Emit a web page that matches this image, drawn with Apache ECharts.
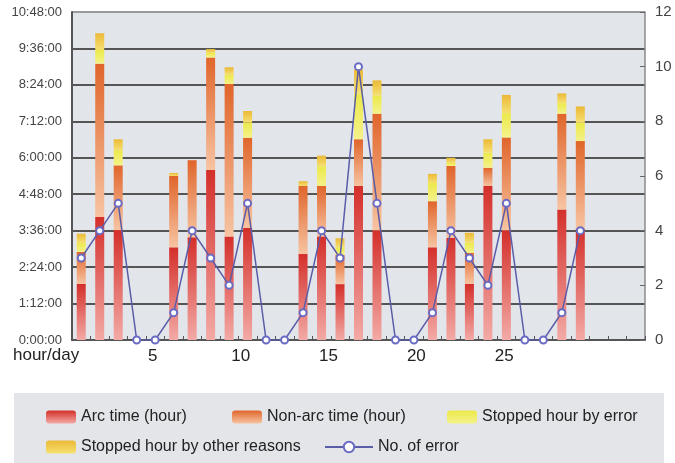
<!DOCTYPE html>
<html><head><meta charset="utf-8">
<script src="https://cdn.jsdelivr.net/npm/echarts/dist/echarts.min.js"></script>
<style>html,body{margin:0;padding:0;background:#fff}#c{width:675px;height:463px}</style>
</head><body><div id="c"></div>
<script>
// ---- data ----
const days = ['1','2','3','4','5','6','7','8','9','10','11','12','13','14','15','16','17','18','19','20','21','22','23','24','25','26','27','28','29','30','31'];
const arcTime =      [1.85,4.05,3.62,0,0,3.05,3.38,5.60,3.41,3.69,0,0,2.83,3.41,1.84,5.07,3.61,0,0,3.05,3.36,1.85,5.07,3.61,0,0,4.30,3.66,null,null,null];
const nonArcTime =   [1.05,5.05,2.13,0,0,2.35,2.54,3.70,5.02,2.97,0,0,2.24,1.66,0.96,1.54,3.84,0,0,1.52,2.37,1.02,0.60,3.06,0,0,3.15,2.89,null,null,null];
const stopError =    [0.30,0.45,0.50,0,0,0.00,0.00,0.15,0.30,0.50,0,0,0.00,0.65,0.25,1.50,0.60,0,0,0.60,0.10,0.33,0.50,0.80,0,0,0.35,0.60,null,null,null];
const stopOther =    [0.30,0.55,0.36,0,0,0.10,0.00,0.13,0.25,0.38,0,0,0.16,0.35,0.30,0.80,0.50,0,0,0.30,0.17,0.33,0.44,0.60,0,0,0.32,0.54,null,null,null];
const errorCount =   [3,4,5,0,0,1,4,3,2,5,0,0,1,4,3,10,5,0,0,1,4,3,2,5,0,0,1,4,null,null,null];
const dayTicks = [5,10,15,20,25];
const seriesNames = ['Arc time (hour)','Non-arc time (hour)','Stopped hour by error','Stopped hour by other reasons','No. of error'];

// ---- helpers ----
function pad(n){return (n<10?'0':'')+n;}
function hms(v){const s=Math.round(v*3600);return Math.floor(s/3600)+':'+pad(Math.floor(s%3600/60))+':'+pad(s%60);}
function grad(top,bottom){return {type:'linear',x:0,y:0,x2:0,y2:1,colorStops:[{offset:0,color:top},{offset:1,color:bottom}]};}
const FONT = "'Liberation Sans',sans-serif";

const colArc = grad('#d42f2a','#f3aaa6');
const colNon = grad('#e0652b','#f7c4a2');
const colErr = grad('#ece94a','#f4f28a');
const colOth = grad('#ebb937','#f6e070');

function legendAt(name,left,top,extra){
  return Object.assign({data:[name],left:left,top:top,itemWidth:30,itemHeight:13,itemGap:0,
    textStyle:{fontFamily:FONT,fontSize:16,color:'#222'},selectedMode:false},extra||{});
}

const chart = echarts.init(document.getElementById('c'),null,{renderer:'canvas'});
const barW = 9;
chart.setOption({
  animation:false,
  backgroundColor:'#fff',
  graphic:[
    {type:'rect',shape:{x:14,y:393,width:650,height:70},style:{fill:'#e3e5e9'},z:-10},
    {type:'text',left:13,top:347,style:{text:'hour/day',font:"17px 'Liberation Sans',sans-serif",fill:'#222'}}
  ],
  legend:[
    legendAt(seriesNames[0],41,404),
    legendAt(seriesNames[1],227,404),
    legendAt(seriesNames[2],442,404),
    legendAt(seriesNames[3],41,434),
    legendAt(seriesNames[4],319,434,{itemWidth:48})
  ],
  grid:[
    {left:72,right:30,top:12,bottom:123,show:true,backgroundColor:'#e2e5ea',borderWidth:0},
    {left:65,width:527,top:330,height:10,show:false}
  ],
  xAxis:[
    {type:'category',data:days,gridIndex:0,boundaryGap:true,
     axisLine:{lineStyle:{color:'#555',width:2}},
     axisTick:{show:true,inside:true,length:4,interval:0,lineStyle:{color:'#555'}},
     axisLabel:{show:false},splitLine:{show:false}},
    {type:'value',gridIndex:1,min:0,max:30,interval:5,
     axisLine:{show:false},axisTick:{show:false},splitLine:{show:false},
     axisLabel:{margin:8,fontFamily:FONT,fontSize:17,color:'#222',
       formatter:v=>dayTicks.indexOf(v)>=0?String(v):''}}
  ],
  yAxis:[
    {type:'value',gridIndex:0,min:0,max:10.8,interval:1.2,position:'left',
     axisLine:{show:true,lineStyle:{color:'#555',width:2}},axisTick:{show:false},
     axisLabel:{formatter:hms,margin:10,fontFamily:FONT,fontSize:13,color:'#444'},
     splitLine:{show:true,lineStyle:{width:2,color:['#555','#555','#555','#555','#555','#555','#555','#555','#555','#9a9a9a']}}},
    {type:'value',gridIndex:0,min:0,max:12,interval:2,position:'right',
     axisLine:{show:true,lineStyle:{color:'#8a8a8a',width:1.5}},
     axisTick:{show:true,inside:true,length:5,lineStyle:{color:'#666'}},
     axisLabel:{margin:10,fontFamily:FONT,fontSize:15,color:'#444'},
     splitLine:{show:false}},
    {type:'value',gridIndex:1,show:false}
  ],
  series:[
    {name:seriesNames[0],type:'bar',stack:'t',barWidth:barW,data:arcTime,itemStyle:{color:colArc}},
    {name:seriesNames[1],type:'bar',stack:'t',barWidth:barW,data:nonArcTime,itemStyle:{color:colNon}},
    {name:seriesNames[2],type:'bar',stack:'t',barWidth:barW,data:stopError,itemStyle:{color:colErr}},
    {name:seriesNames[3],type:'bar',stack:'t',barWidth:barW,data:stopOther,itemStyle:{color:colOth}},
    {name:seriesNames[4],type:'line',yAxisIndex:1,data:errorCount,symbol:'emptyCircle',symbolSize:7,
     lineStyle:{color:'#5a5ca8',width:1.5},itemStyle:{color:'#6a6cc4',borderColor:'#6a6cc4',borderWidth:1.5},z:5}
  ]
});
</script></body></html>
